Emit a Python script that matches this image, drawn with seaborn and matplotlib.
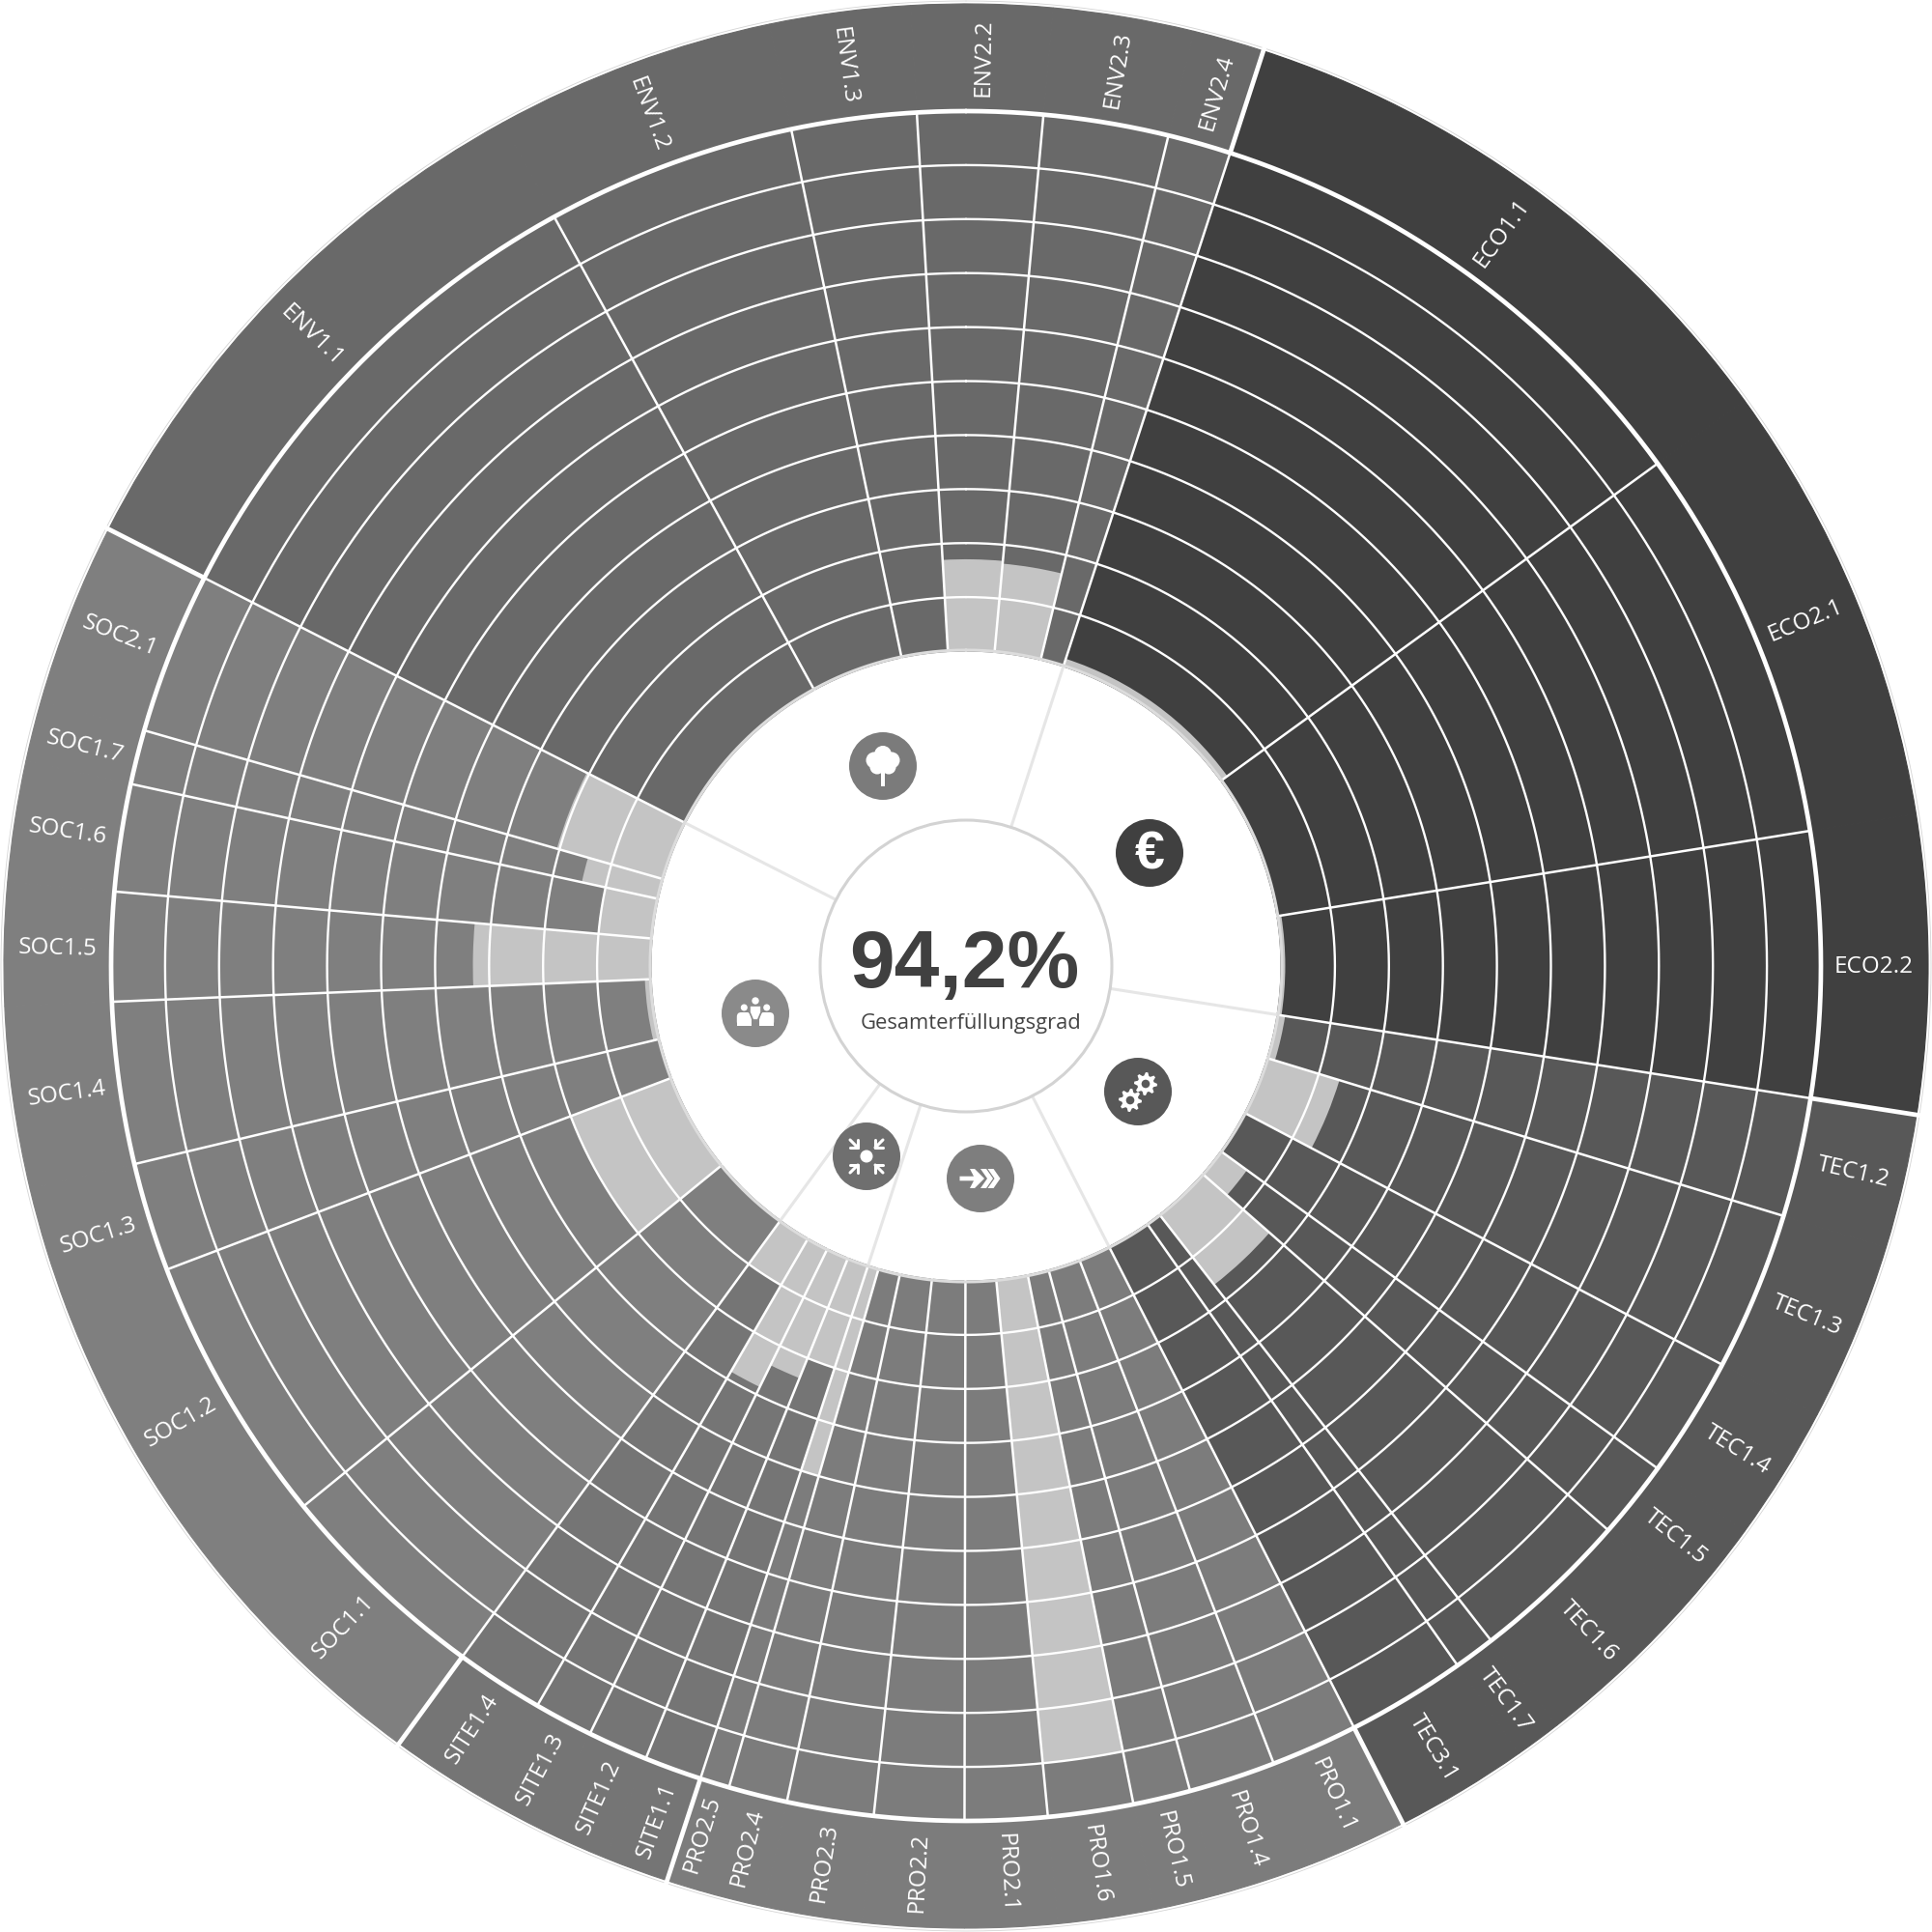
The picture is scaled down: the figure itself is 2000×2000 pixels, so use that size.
"""
Circular fulfilment chart: criteria per group, unfulfilled part shown light.
"""

import numpy as np
import pandas as pd
import matplotlib.pyplot as plt
from matplotlib.patches import Circle, Polygon, Rectangle, FancyBboxPatch
import seaborn as sns

# criteria clockwise, starting at the ENV / ECO border
labels = ["ECO1.1", "ECO2.1", "ECO2.2",
          "TEC1.2", "TEC1.3", "TEC1.4", "TEC1.5", "TEC1.6", "TEC1.7", "TEC3.1",
          "PRO1.1", "PRO1.4", "PRO1.5", "PRO1.6", "PRO2.1", "PRO2.2", "PRO2.3", "PRO2.4", "PRO2.5",
          "SITE1.1", "SITE1.2", "SITE1.3", "SITE1.4",
          "SOC1.1", "SOC1.2", "SOC1.3", "SOC1.4", "SOC1.5", "SOC1.6", "SOC1.7", "SOC2.1",
          "ENV1.1", "ENV1.2", "ENV1.3", "ENV2.2", "ENV2.3", "ENV2.4"]

# angular share of each criterion in degrees
weights = [36, 26.9, 18,
           8.1, 10.8, 8.2, 5.3, 10.8, 2.8, 8.1,
           5.9, 5.9, 3.9, 5.8, 5.6, 6.1, 5.9, 4, 2,
           3.9, 4.1, 4, 6,
           14.7, 18.4, 7.4, 11, 7.4, 7.3, 3.7, 11,
           34.2, 17, 8.5, 8.5, 8.5, 4.3]

# unfulfilled depth, in rings counted from the inside (10 rings = nothing fulfilled)
gaps = [0.15, 0, 0.08,
        0.15, 1.4, 0, 0.6, 1.65, 0, 0,
        0, 0, 0, 9.0, 0, 0, 0, 0, 4.0,
        2.0, 2.4, 2.85, 1.0,
        0, 2.0, 0, 0.12, 3.3, 1.0, 1.45, 2.05,
        0, 0, 0, 1.7, 1.65, 0]

group_colors = {"ECO": "#404040", "TEC": "#585858", "PRO": "#7c7c7c",
                "SITE": "#757575", "SOC": "#7f7f7f", "ENV": "#696969"}
LIGHT = "#c4c4c4"
EDGE = "#dcdcdc"

# radii in pixels of the 2000 px picture
R_HOLE = 326
RING = 55.9
R_RINGS = R_HOLE + 10 * RING
R_BAND = 996
START = 18.0

df = pd.DataFrame({"label": labels, "weight": weights, "gap": gaps})
df["group"] = df["label"].str.extract(r"^([A-Z]+)")
df["start"] = START + df["weight"].cumsum().shift(fill_value=0)
df["center"] = df["start"] + df["weight"] / 2
df["color"] = df["group"].map(group_colors)

sns.set_theme(style="white")
plt.rcParams["font.family"] = ["Open Sans", "DejaVu Sans"]


def draw_rings(data, **kwargs):
    ax = plt.gca()
    theta = np.radians(data["center"])
    width = np.radians(data["weight"])
    # filled part, label band and the light unfulfilled part; the edge closes the seams
    ax.bar(theta, R_RINGS - R_HOLE, width=width, bottom=R_HOLE, color=data["color"],
           edgecolor=data["color"], linewidth=0.8)
    ax.bar(theta, R_BAND - R_RINGS, width=width, bottom=R_RINGS, color=data["color"],
           edgecolor=data["color"], linewidth=0.8)
    ax.bar(theta, data["gap"] * RING, width=width, bottom=R_HOLE, color=LIGHT, linewidth=0)


g = sns.FacetGrid(df, height=20, despine=False, subplot_kws={"projection": "polar"})
g.map_dataframe(draw_rings)
fig = g.figure
ax = g.ax
ax.set_position([0, 0, 1, 1])
ax.set_theta_zero_location("N")
ax.set_theta_direction(-1)
ax.set_ylim(0, 1000)
ax.axis("off")

# rings
circle = np.linspace(0, 2 * np.pi, 721)
for k in range(1, 10):
    ax.plot(circle, np.full(721, R_HOLE + k * RING), color="white", lw=1.7)
ax.plot(circle, np.full(721, R_RINGS), color="white", lw=3.4)
ax.plot(circle, np.full(721, 999), color="#d4d4d4", lw=0.6, clip_on=False)

# separators
for a in df["start"]:
    ax.plot(np.radians([a, a]), [R_HOLE, R_RINGS], color="white", lw=1.8)
group_starts = df.groupby("group", sort=False)["start"].first()
for a in group_starts:
    ax.plot(np.radians([a, a]), [R_RINGS, 1000], color="white", lw=3.4)
    ax.plot(np.radians([a, a]), [151, R_HOLE], color="#e6e6e6", lw=2.2)
ax.plot(circle, np.full(721, R_HOLE + 1), color=EDGE, lw=2.2)

# criterion labels, always running along the radius
for _, row in df.iterrows():
    a = row["center"] % 360
    if a < 180:
        rotation, ha = 90 - a, "right"
    else:
        rotation, ha = 270 - a, "left"
    ax.text(np.radians(a), 981, row["label"], rotation=rotation, ha=ha, va="center_baseline",
            rotation_mode="anchor", color="white", fontsize=17.5)

# overlay in pixel coordinates for the middle of the chart
top = fig.add_axes([0, 0, 1, 1], facecolor="none")
top.set_xlim(0, 2000)
top.set_ylim(2000, 0)
top.axis("off")
top.add_patch(Circle((1000, 1000), 151, fc="white", ec="#d3d3d3", lw=2.2))
top.text(998, 1022, "94,2%", ha="center", va="baseline", fontsize=60.5, fontweight="bold",
         family="Liberation Sans", color="#404040")
top.text(1005.5, 1059, "Gesamterfüllungsgrad", ha="center", va="center", fontsize=15.8, color="#444444")


def icon_disc(x, y, color):
    top.add_patch(Circle((x, y), 35, fc=color, ec="none"))


def tree_icon(x, y, color):
    icon_disc(x, y, color)
    for dx, dy, r in [(0, -12, 9), (-9, -6, 8.5), (9, -6, 8.5), (-6, 1, 7.5), (6, 1, 7.5), (0, -4, 9)]:
        top.add_patch(Circle((x + dx, y + dy), r, fc="white", ec="none"))
    top.add_patch(Rectangle((x - 2.2, y + 2), 4.4, 19, fc="white", ec="none"))


def euro_icon(x, y, color):
    icon_disc(x, y, color)
    top.text(x, y + 2, "€", ha="center", va="center", fontsize=40, fontweight="bold",
             family="Liberation Sans", color="white")


def gear(x, y, r, color):
    # eight teeth around a ring
    angles = np.radians(np.arange(0, 360, 11.25))
    radii = np.tile([r, r, r * 0.72, r * 0.72], 8)
    pts = np.column_stack([x + radii * np.cos(angles), y + radii * np.sin(angles)])
    top.add_patch(Polygon(pts, fc="white", ec="none"))
    top.add_patch(Circle((x, y), r * 0.36, fc=color, ec="none"))


def gears_icon(x, y, color):
    icon_disc(x, y, color)
    gear(x - 8, y + 9, 12, color)
    gear(x + 8, y - 8, 12, color)


def arrows_icon(x, y, color):
    icon_disc(x, y, color)
    pts = [(-21.5, -2.3), (-7, -2.3), (-11, -10), (-6, -10), (4, 0), (-6, 10), (-11, 10), (-7, 2.3), (-21.5, 2.3)]
    top.add_patch(Polygon([(x + a, y + b) for a, b in pts], fc="white", ec="none"))
    for tip in (13, 20.5):
        pts = [(-13, -10), (-7, -10), (0, 0), (-7, 10), (-13, 10), (-6, 0)]
        top.add_patch(Polygon([(x + a + tip, y + b) for a, b in pts], fc="white", ec="none"))


def target_icon(x, y, color):
    icon_disc(x, y, color)
    top.add_patch(Circle((x, y), 6.5, fc="white", ec="none"))
    for sx in (-1, 1):
        for sy in (-1, 1):
            # small arrow pointing at the middle
            tip = (x + sx * 9, y + sy * 9)
            top.plot([x + sx * 17, tip[0]], [y + sy * 17, tip[1]], color="white", lw=2.2)
            top.plot([tip[0], tip[0] + sx * 8], [tip[1], tip[1]], color="white", lw=2.2)
            top.plot([tip[0], tip[0]], [tip[1], tip[1] + sy * 8], color="white", lw=2.2)


def people_icon(x, y, color):
    icon_disc(x, y, color)
    for side in (-1, 1):
        cx = x + side * 11.7
        top.add_patch(Circle((cx, y - 6), 3.5, fc="white", ec="none"))
        top.add_patch(FancyBboxPatch((cx - 7.5, y - 1), 15, 14, boxstyle="round,pad=0,rounding_size=4.5",
                                     fc="white", ec="none"))
        top.add_patch(Rectangle((cx - 7.5, y + 6), 15, 7, fc="white", ec="none"))
    top.add_patch(Circle((x, y - 13), 3.7, fc=color, ec=color, lw=3))
    top.add_patch(Circle((x, y - 13), 3.7, fc="white", ec="none"))
    top.add_patch(Polygon([(x - 6, y - 8), (x + 6, y - 8), (x + 6, y - 1), (x + 2.5, y + 7), (x - 2.5, y + 7), (x - 6, y - 1)],
                          fc="white", ec=color, lw=1.2))


tree_icon(914, 793, "#7b7b7b")
euro_icon(1190, 883, "#404040")
gears_icon(1178, 1130, "#585858")
arrows_icon(1015, 1220, "#7e7e7e")
target_icon(897, 1197, "#6f6f6f")
people_icon(782, 1049, "#8a8a8a")

fig.savefig("out.png", dpi=100, facecolor="white")
